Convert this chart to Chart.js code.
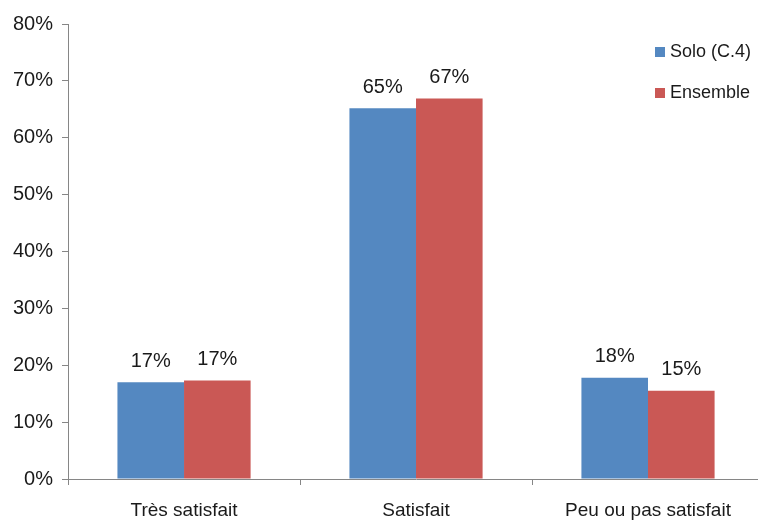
<!DOCTYPE html>
<html>
<head>
<meta charset="utf-8">
<script src="https://cdn.jsdelivr.net/npm/chart.js@4.4.0/dist/chart.umd.min.js"></script>
<style>
  html, body { margin: 0; padding: 0; background: #fff; overflow: hidden; }
  #wrap { width: 758px; height: 521px; overflow: hidden; }
</style>
</head>
<body>
<!-- the plot runs a few pixels past the right edge, as in the original -->
<div id="wrap"><canvas id="chart" width="764" height="521"></canvas></div>
<script>
var categories = ['Très satisfait', 'Satisfait', 'Peu ou pas satisfait'];
var seriesNames = ['Solo (C.4)', 'Ensemble'];
var soloValues = [17.0, 65.2, 17.8];
var ensembleValues = [17.3, 66.9, 15.5];
var soloLabels = ['17%', '65%', '18%'];
var ensembleLabels = ['17%', '67%', '15%'];
var yMin = 0, yMax = 80, yStep = 10;

var FONT = '"Liberation Sans", Arial, sans-serif';
var AXIS = '#868686';

// value labels above each bar
var barLabels = {
	id: 'barLabels',
	afterDatasetsDraw: function(chart) {
		var ctx = chart.ctx;
		ctx.save();
		ctx.font = '20px ' + FONT;
		ctx.fillStyle = '#1a1a1a';
		ctx.textAlign = 'center';
		ctx.textBaseline = 'bottom';
		chart.data.datasets.forEach(function(ds, i) {
			chart.getDatasetMeta(i).data.forEach(function(bar, j) {
				ctx.fillText(ds.valueLabels[j], bar.x, bar.y - 11);
			});
		});
		ctx.restore();
	}
};

// legend in the top right corner, inside the plot
var cornerLegend = {
	id: 'cornerLegend',
	afterDraw: function(chart) {
		var ctx = chart.ctx;
		var x = 758 - 103;
		var y = chart.chartArea.top + 28;
		ctx.save();
		ctx.font = '18px ' + FONT;
		ctx.textBaseline = 'middle';
		ctx.textAlign = 'left';
		chart.data.datasets.forEach(function(ds, i) {
			var cy = y + i * 41;
			ctx.fillStyle = ds.backgroundColor;
			ctx.fillRect(x, cy - 5, 10, 10);
			ctx.fillStyle = '#1a1a1a';
			ctx.fillText(ds.label, x + 15, cy);
		});
		ctx.restore();
	}
};

new Chart(document.getElementById('chart'), {
	type: 'bar',
	data: {
		labels: categories,
		datasets: [
			{ label: seriesNames[0], data: soloValues, valueLabels: soloLabels,
			  backgroundColor: '#5488C1', borderWidth: 0 },
			{ label: seriesNames[1], data: ensembleValues, valueLabels: ensembleLabels,
			  backgroundColor: '#CA5855', borderWidth: 0 }
		]
	},
	options: {
		responsive: false,
		animation: false,
		devicePixelRatio: 1,
		layout: { padding: { left: 4, right: 0, top: 24, bottom: 0 } },
		datasets: { bar: { categoryPercentage: 0.574, barPercentage: 1.0 } },
		plugins: {
			legend: { display: false },
			tooltip: { enabled: false }
		},
		scales: {
			x: {
				afterFit: function(scale) { scale.height = 42; },
				grid: { display: true, drawOnChartArea: false, color: AXIS, tickLength: 6, offset: true },
				border: { display: true, color: AXIS, width: 1 },
				ticks: { color: '#1a1a1a', font: { family: FONT, size: 19 }, padding: 14, maxRotation: 0 }
			},
			y: {
				min: yMin,
				max: yMax,
				grid: { display: true, drawOnChartArea: false, color: AXIS, tickLength: 6 },
				border: { display: true, color: AXIS, width: 1 },
				ticks: {
					stepSize: yStep,
					color: '#1a1a1a',
					font: { family: FONT, size: 20 },
					padding: 9,
					callback: function(v) { return v + '%'; }
				}
			}
		}
	},
	plugins: [barLabels, cornerLegend]
});
</script>
</body>
</html>
